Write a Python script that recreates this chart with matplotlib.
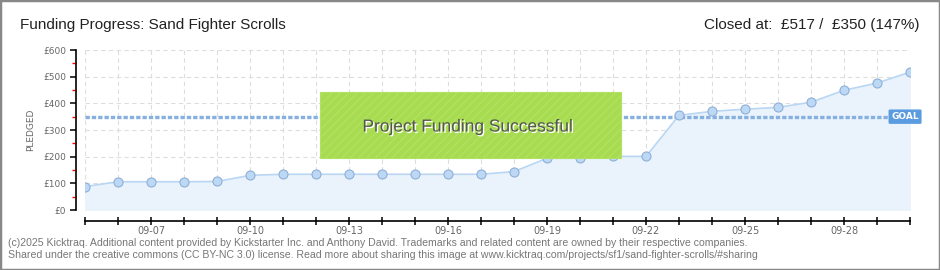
import numpy as np
import matplotlib
matplotlib.use("Agg")
import matplotlib.pyplot as plt
from matplotlib.patches import Rectangle
import matplotlib.patheffects as pe

# data
days = ["09-05", "09-06", "09-07", "09-08", "09-09", "09-10", "09-11", "09-12",
        "09-13", "09-14", "09-15", "09-16", "09-17", "09-18", "09-19", "09-20",
        "09-21", "09-22", "09-23", "09-24", "09-25", "09-26", "09-27", "09-28",
        "09-29", "09-30"]
pledged = [88, 106, 106, 106, 107, 130, 134, 134, 134, 134, 134, 134, 134, 144,
           194, 194, 201, 201, 355, 370, 378, 385, 404, 449, 476, 517]
goal = 350
yticks = [0, 100, 200, 300, 400, 500, 600]
ytick_labels = ["£0", "£100", "£200", "£300", "£400", "£500", "£600"]

text_font = ["Liberation Sans", "DejaVu Sans"]

W, H = 940, 270
fig = plt.figure(figsize=(W / 100, H / 100), dpi=100)

def px(x0, y0, x1, y1):
    # pixel box (from top-left) -> figure fraction
    return [x0 / W, 1 - y1 / H, (x1 - x0) / W, (y1 - y0) / H]

ax = fig.add_axes(px(85, 50, 910, 210))
x = np.arange(len(pledged))

ax.fill_between(x, pledged, 0, color="#eaf3fc", zorder=1)
ax.plot(x, pledged, color="#b9d6f3", lw=1.2, zorder=3)
ax.plot(x, pledged, "o", ms=6.5, mfc="#bcd8f5", mec="#8eafd6", mew=0.8, zorder=4)

# goal line
ax.axhline(goal, color="#86b0e0", lw=2.4, ls=(0, (1.3, 0.6)), zorder=2)
ax.text(len(pledged) - 1.15, goal, "GOAL", color="white", fontsize=6.5,
        ha="center", va="center", zorder=6, fontweight="bold",
        bbox=dict(boxstyle="round,pad=0.3,rounding_size=0.15", fc="#5b9be0", ec="none"))

ax.set_xlim(0, len(pledged) - 1)
ax.set_ylim(0, 600)

# axes styling
for s in ["top", "right"]:
    ax.spines[s].set_visible(False)
ax.spines["left"].set_position(("outward", 6.5))
ax.spines["bottom"].set_position(("outward", 7.7))
ax.spines["left"].set_linewidth(1.2)
ax.spines["bottom"].set_linewidth(1.2)

ax.set_xticks(x)
ax.set_xticklabels([d if i % 3 == 2 else "" for i, d in enumerate(days)])
ax.tick_params(axis="x", direction="inout", length=6, width=1.1, labelsize=7,
               labelcolor="#666666", pad=0.5)
ax.set_yticks(yticks)
ax.set_yticklabels(ytick_labels)
ax.set_yticks(np.arange(50, 600, 100), minor=True)
ax.tick_params(axis="y", which="major", length=4, width=1.1, labelsize=6.5,
               labelcolor="#666666", pad=3)
ax.tick_params(axis="y", which="minor", length=3, width=1, color="red")
ax.grid(True, color="#dddddd", ls=(0, (4, 3)), lw=0.8, zorder=0)
ax.set_axisbelow(True)
ax.set_ylabel("PLEDGED", fontsize=6.5, color="#666666", labelpad=6)

# success banner
b = px(320, 92, 621, 158)
banner = Rectangle((b[0], b[1]), b[2], b[3], transform=fig.transFigure,
                   fc="#a8dc50", ec="#b2e062", lw=0.8, hatch="////", zorder=5)
fig.patches.append(banner)
fig.text(468 / W, 1 - 127 / H, "Project Funding Successful", fontsize=12.5,
         color="#555555", ha="center", va="center", family=text_font, zorder=7,
         path_effects=[pe.withSimplePatchShadow(offset=(1, -1), shadow_rgbFace="white", alpha=1)])

# titles
fig.text(20 / W, 1 - 25 / H, "Funding Progress: Sand Fighter Scrolls", fontsize=11,
         color="#222222", ha="left", va="center", family=text_font)
fig.text(920 / W, 1 - 25 / H, "Closed at:  £517 /  £350 (147%)", fontsize=11,
         color="#222222", ha="right", va="center", family=text_font)

# footer
fig.text(8 / W, 1 - 243 / H,
         "(c)2025 Kicktraq. Additional content provided by Kickstarter Inc. and Anthony David. "
         "Trademarks and related content are owned by their respective companies.",
         fontsize=7.6, color="#777777", ha="left", va="center", family=text_font)
fig.text(8 / W, 1 - 255 / H,
         "Shared under the creative commons (CC BY-NC 3.0) license. Read more about sharing this "
         "image at www.kicktraq.com/projects/sf1/sand-fighter-scrolls/#sharing",
         fontsize=7.6, color="#777777", ha="left", va="center", family=text_font)

# outer frame
fig.patches.append(Rectangle((0, 0), 1, 1, transform=fig.transFigure, fill=False,
                             ec="#888888", lw=2.5))

fig.savefig("out.png", dpi=100)
